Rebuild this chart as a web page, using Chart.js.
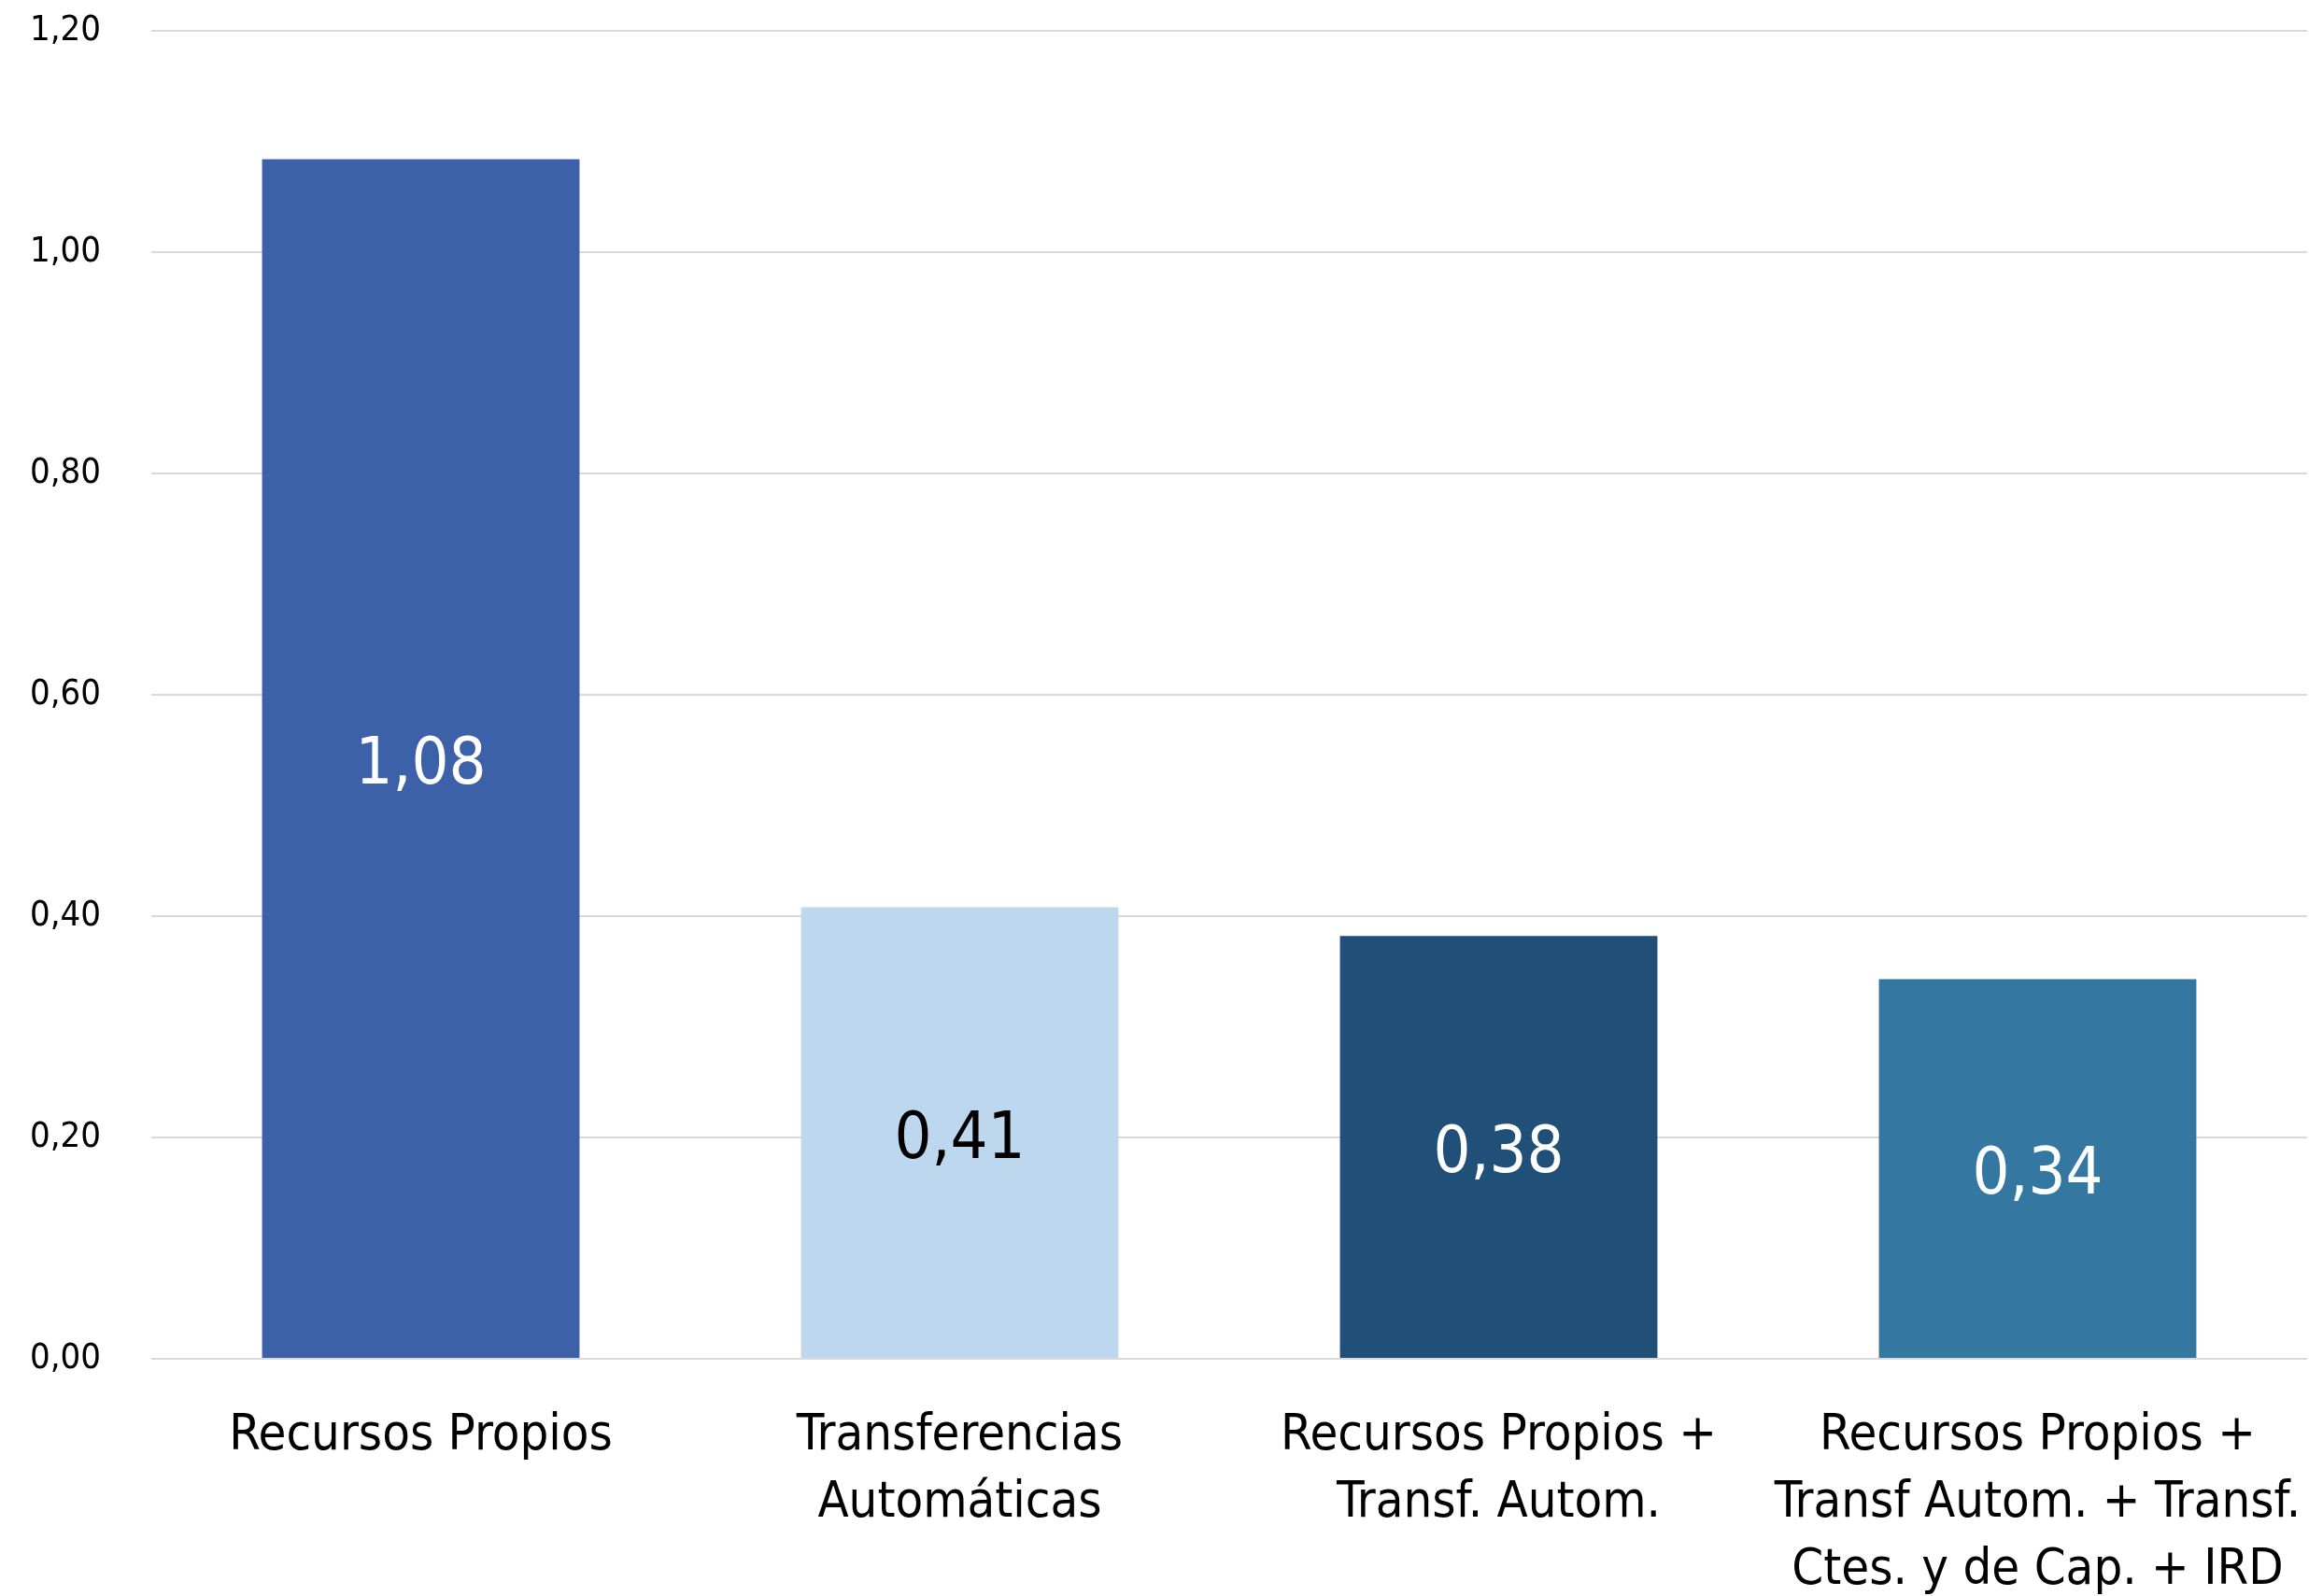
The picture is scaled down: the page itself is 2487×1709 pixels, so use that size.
<!DOCTYPE html>
<html>
<head>
<meta charset="utf-8">
<script src="https://cdn.jsdelivr.net/npm/chart.js@4"></script>
<style>
  html, body { margin: 0; padding: 0; background: #fff; }
  #wrap { width: 2487px; height: 1709px; }
</style>
</head>
<body>
<div id="wrap"><canvas id="grafico" width="2487" height="1709"></canvas></div>
<script>
const categorias = [
  ['Recursos Propios'],
  ['Transferencias', 'Automáticas'],
  ['Recursos Propios +', 'Transf. Autom.'],
  ['Recursos Propios +', 'Transf Autom. + Transf.', 'Ctes. y de Cap. + IRD']
];
const valores = [1.084, 0.408, 0.382, 0.343];
const colores = ['#3c61a8', '#bdd7ee', '#204f78', '#3478a2'];
const coresTexto = ['#ffffff', '#000000', '#ffffff', '#ffffff'];
const ticksY = [0, 0.2, 0.4, 0.6, 0.8, 1.0, 1.2];

const fonte = "'DejaVu Sans Condensed', 'DejaVu Sans', sans-serif";

function formata(v) {
  return v.toFixed(2).replace('.', ',');
}

// rótulos de valor no meio das barras
const rotulos = {
  id: 'rotulos',
  afterDatasetsDraw(chart) {
    const ctx = chart.ctx;
    const meta = chart.getDatasetMeta(0);
    ctx.save();
    ctx.font = '70px ' + fonte;
    ctx.textAlign = 'center';
    ctx.textBaseline = 'middle';
    meta.data.forEach((barra, i) => {
      ctx.fillStyle = coresTexto[i];
      ctx.fillText(formata(valores[i]), barra.x, (barra.y + barra.base) / 2 + 9);
    });
    ctx.restore();
  }
};

const ctx = document.getElementById('grafico').getContext('2d');
new Chart(ctx, {
  type: 'bar',
  data: {
    labels: categorias,
    datasets: [{
      data: valores,
      backgroundColor: colores,
      borderWidth: 0,
      categoryPercentage: 1,
      barPercentage: 0.589
    }]
  },
  options: {
    responsive: false,
    animation: false,
    layout: { padding: { top: 33, right: 17, left: 0, bottom: 0 } },
    plugins: {
      legend: { display: false },
      tooltip: { enabled: false }
    },
    scales: {
      x: {
        grid: { display: false },
        border: { display: false },
        ticks: {
          color: '#000',
          font: { family: fonte, size: 54, lineHeight: 1.33 },
          padding: 39,
          maxRotation: 0,
          autoSkip: false
        },
        afterFit: (s) => {
          s.height = 254;
          s.paddingLeft = 0;
          s.paddingRight = 0;
        }
      },
      y: {
        min: 0,
        max: 1.2,
        afterBuildTicks: (s) => { s.ticks = ticksY.map(v => ({ value: v })); },
        grid: { color: '#d9d9d9', lineWidth: 2, drawTicks: false },
        border: { display: false },
        ticks: {
          color: '#000',
          font: { family: fonte, size: 38 },
          padding: 54,
          callback: (v) => formata(v)
        },
        afterFit: (s) => {
          s.width = 162;
          s.paddingTop = 0;
          s.paddingBottom = 0;
        }
      }
    }
  },
  plugins: [rotulos]
});
</script>
</body>
</html>
